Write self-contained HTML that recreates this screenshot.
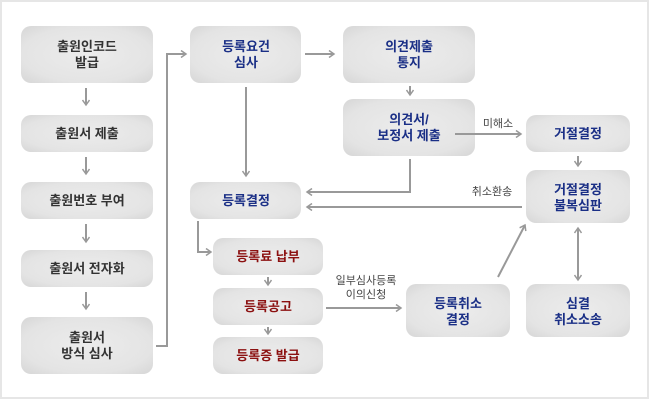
<!DOCTYPE html>
<html><head><meta charset="utf-8">
<style>
html,body{margin:0;padding:0;background:#fff;}
body{width:650px;height:400px;overflow:hidden;}
text{font-family:"Liberation Sans","Noto Sans CJK KR","NanumGothic",sans-serif;font-weight:bold;font-size:13px;}
</style></head><body>
<svg width="650" height="400" xmlns="http://www.w3.org/2000/svg">
<defs>
<radialGradient id="g" cx="50%" cy="50%" r="70%">
<stop offset="0" stop-color="#ececec"/><stop offset="0.7" stop-color="#e4e4e4"/><stop offset="1" stop-color="#d6d6d6"/>
</radialGradient>
<marker id="a" markerWidth="8" markerHeight="8" refX="6" refY="4" orient="auto" markerUnits="userSpaceOnUse">
<path d="M1,0.5 L6,4 L1,7.5" fill="none" stroke="#999" stroke-width="1.5"/>
</marker>
<marker id="s" markerWidth="8" markerHeight="8" refX="2" refY="4" orient="auto" markerUnits="userSpaceOnUse">
<path d="M7,0.5 L2,4 L7,7.5" fill="none" stroke="#999" stroke-width="1.5"/>
</marker>
</defs>
<rect x="1" y="1" width="647" height="397" fill="#fff" stroke="#e6e6e6" stroke-width="2"/>
<g fill="url(#g)">
<rect x="21" y="26" width="132" height="57" rx="10"/>
<rect x="21" y="115" width="132" height="37" rx="10"/>
<rect x="21" y="182" width="132" height="37" rx="10"/>
<rect x="21" y="250" width="132" height="37" rx="10"/>
<rect x="21" y="317" width="132" height="57" rx="10"/>
<rect x="190" y="26" width="111" height="57" rx="10"/>
<rect x="190" y="182" width="111" height="37" rx="10"/>
<rect x="213" y="238" width="110" height="37" rx="10"/>
<rect x="213" y="288" width="110" height="37" rx="10"/>
<rect x="213" y="337" width="110" height="37" rx="10"/>
<rect x="343" y="26" width="132" height="57" rx="10"/>
<rect x="343" y="99" width="132" height="57" rx="10"/>
<rect x="406" y="284" width="104" height="53" rx="10"/>
<rect x="526" y="115" width="104" height="37" rx="10"/>
<rect x="526" y="170" width="104" height="53" rx="10"/>
<rect x="526" y="284" width="104" height="53" rx="10"/>
</g>
<g stroke="#999" stroke-width="2" fill="none" marker-end="url(#a)">
<path d="M86,88 V105"/>
<path d="M86,157 V174"/>
<path d="M86,224 V242"/>
<path d="M86,292 V309"/>
<path d="M156,346 H167 V54 H186"/>
<path d="M305,54 H334"/>
<path d="M410,86 V95"/>
<path d="M246,87 V176"/>
<path d="M455,134 H521"/>
<path d="M578,156 V166"/>
<path d="M410,159 V192 H307"/>
<path d="M522,207 H307"/>
<path d="M198,221 V252 H211"/>
<path d="M268,277 V285"/>
<path d="M268,327 V334"/>
<path d="M326,308 H401"/>
<path d="M498,277 L525,225"/>
<path d="M578,228 V280" marker-start="url(#s)"/>
</g>
<g fill="#333" text-anchor="middle">
<text x="87" y="51">출원인코드</text><text x="87" y="67">발급</text>
<text x="87" y="138">출원서 제출</text>
<text x="87" y="205">출원번호 부여</text>
<text x="87" y="273">출원서 전자화</text>
<text x="87" y="342">출원서</text><text x="87" y="358">방식 심사</text>
</g>
<g fill="#1a2f86" text-anchor="middle">
<text x="246" y="51">등록요건</text><text x="246" y="67">심사</text>
<text x="246" y="205">등록결정</text>
<text x="409" y="51">의견제출</text><text x="409" y="67">통지</text>
<text x="409" y="124">의견서/</text><text x="409" y="140">보정서 제출</text>
<text x="458" y="308">등록취소</text><text x="458" y="324">결정</text>
<text x="578" y="138">거절결정</text>
<text x="578" y="194">거절결정</text><text x="578" y="210">불복심판</text>
<text x="578" y="308">심결</text><text x="578" y="324">취소소송</text>
</g>
<g fill="#8b1010" text-anchor="middle">
<text x="268" y="261">등록료 납부</text>
<text x="268" y="311">등록공고</text>
<text x="268" y="360">등록증 발급</text>
</g>
<g fill="#444" text-anchor="middle">
<text x="498" y="127" style="font-weight:normal;font-size:11px">미해소</text>
<text x="492" y="195" style="font-weight:normal;font-size:11px">취소환송</text>
<text x="366" y="284" style="font-weight:normal;font-size:11px">일부심사등록</text>
<text x="366" y="298" style="font-weight:normal;font-size:11px">이의신청</text>
</g>
</svg>
</body></html>
